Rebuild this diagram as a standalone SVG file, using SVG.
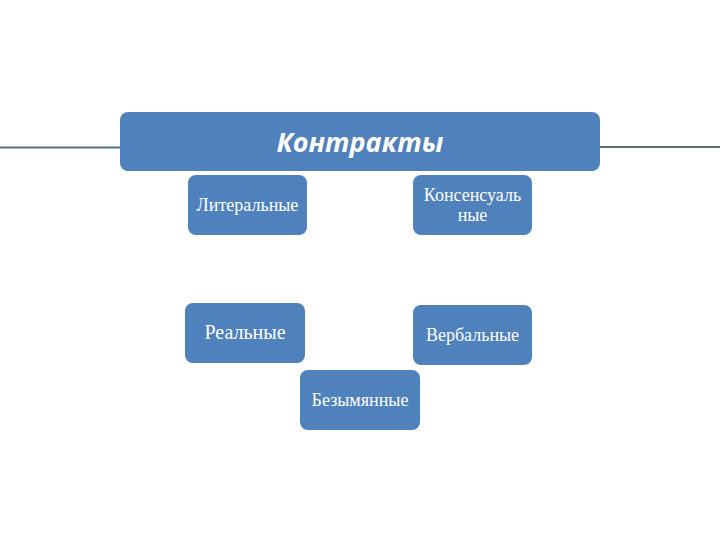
<svg xmlns="http://www.w3.org/2000/svg" width="720" height="540" viewBox="0 0 720 540">
<style>
.box{fill:#4f81bd;}
.lbl{fill:#ffffff;font-family:"Liberation Serif","Times New Roman",serif;font-size:18px;text-anchor:middle;}
.title{fill:#ffffff;font-family:"Open Sans","Liberation Sans",sans-serif;font-size:27px;font-weight:bold;font-style:italic;text-anchor:middle;}
.ln{stroke:#5b6f7d;stroke-width:2;fill:none;}
</style>
<rect width="720" height="540" fill="#ffffff"/>
<g id="connectors">
<line class="ln" x1="0" y1="147.5" x2="121" y2="147.5"/>
<line class="ln" x1="599" y1="147" x2="720" y2="147"/>
</g>
<g id="kontrakty">
<rect class="box" x="120" y="112" width="480" height="59" rx="8"/>
<text class="title" x="360" y="152">Контракты</text>
</g>
<g id="literalnye">
<rect class="box" x="188" y="175" width="119" height="60" rx="8"/>
<text class="lbl" x="247.5" y="211">Литеральные</text>
</g>
<g id="konsensualnye">
<rect class="box" x="413" y="175" width="119" height="60" rx="8"/>
<text class="lbl" x="472.5" y="201">Консенсуаль</text>
<text class="lbl" x="472.5" y="221">ные</text>
</g>
<g id="realnye">
<rect class="box" x="185" y="303" width="120" height="60" rx="8"/>
<text class="lbl" x="245" y="339" style="font-size:20px">Реальные</text>
</g>
<g id="verbalnye">
<rect class="box" x="413" y="305" width="119" height="60" rx="8"/>
<text class="lbl" x="472.5" y="341">Вербальные</text>
</g>
<g id="bezymyannye">
<rect class="box" x="300" y="370" width="120" height="60" rx="8"/>
<text class="lbl" x="360" y="406">Безымянные</text>
</g>
</svg>
